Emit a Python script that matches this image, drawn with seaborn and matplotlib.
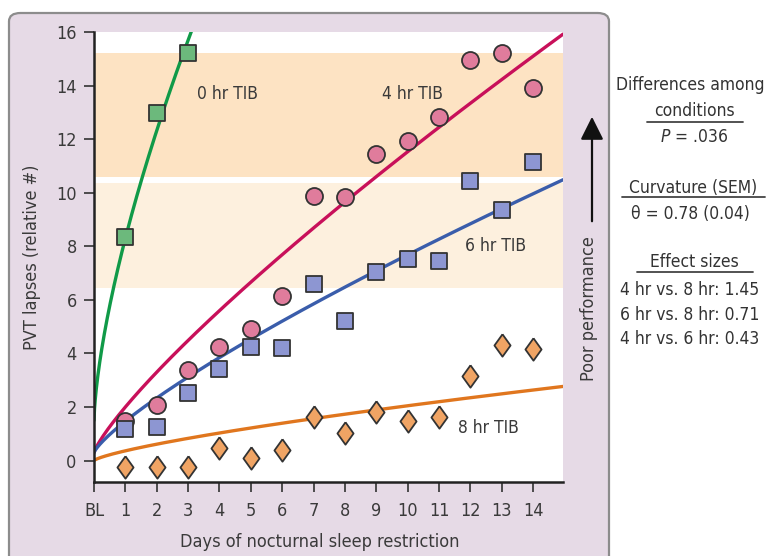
import numpy as np
import pandas as pd
import matplotlib
matplotlib.use("Agg")
import matplotlib.pyplot as plt
import seaborn as sns
from matplotlib.patches import FancyBboxPatch, FancyArrowPatch
from matplotlib.lines import Line2D
from matplotlib import font_manager

# ---------------- data ----------------
days = list(range(1, 15))
tick_pos = list(range(0, 15))
tick_labels = ["BL"] + [str(d) for d in days]

days_0hr = [1, 2, 3]
lapses_0hr = [8.33, 12.96, 15.2]
lapses_4hr = [1.49, 2.08, 3.38, 4.25, 4.9, 6.15, 9.89, 9.85, 11.44, 11.93, 12.81, 14.95, 15.2, 13.9]
lapses_6hr = [1.17, 1.27, 2.54, 3.42, 4.25, 4.19, 6.59, 5.22, 7.05, 7.51, 7.45, 10.45, 9.35, 11.16]
lapses_8hr = [-0.25, -0.25, -0.25, 0.46, 0.09, 0.40, 1.64, 1.04, 1.83, 1.48, 1.64, 3.16, 4.32, 4.17]

# fitted model curves  y = a + b * t**theta  (parameters)
curve_names = ["0hr", "4hr", "6hr", "8hr"]
curve_a = [1.5, 0.3, 0.3, 0.0]
curve_b = [6.8, 1.7, 1.17, 0.364]
curve_theta = [0.67, 0.82, 0.80, 0.75]
curve_tmax = [3.3, 14.95, 14.95, 14.95]

bands = [(10.6, 15.2), (6.45, 10.35)]
band_colors = ["#fde3c3", "#fdf0de"]

labels_txt = ["0 hr TIB", "4 hr TIB", "6 hr TIB", "8 hr TIB"]
labels_xy = [(4.25, 13.68), (10.14, 13.7), (12.79, 8.02), (12.56, 1.22)]

side_text = ["Differences among", "conditions", r"$\it{P}$ = .036",
             "Curvature (SEM)", "\u03b8 = 0.78 (0.04)", "Effect sizes",
             "4 hr vs. 8 hr: 1.45", "6 hr vs. 8 hr: 0.71", "4 hr vs. 6 hr: 0.43"]

# ---------------- style ----------------
sns.set_theme(style="white")
entries = font_manager.fontManager.ttflist
names = {f.name for f in entries}
if "Liberation Sans Narrow" in names:
    FONT = ["Liberation Sans Narrow", "DejaVu Sans"]
    STRETCH = "normal"
    SC = 1.0
else:
    FONT = ["DejaVu Sans"]
    cond = any(f.name == "DejaVu Sans" and f.stretch == "condensed" for f in entries)
    STRETCH = "condensed" if cond else "normal"
    SC = 1.0 if cond else 0.9
plt.rcParams["font.family"] = FONT
plt.rcParams["font.stretch"] = STRETCH
plt.rcParams["mathtext.fontset"] = "custom"
plt.rcParams["mathtext.it"] = FONT[0] + ":italic"
plt.rcParams["mathtext.rm"] = FONT[0]

W, H = 767, 556
fig = plt.figure(figsize=(W / 100, H / 100), dpi=100)
fig.patch.set_facecolor("white")

def fx(px):
    return px / W

def fy(py):
    return 1 - py / H

# panel
panel = FancyBboxPatch((fx(9), fy(600)), fx(600), fy(13) - fy(600),
                       boxstyle="round,pad=0,rounding_size=0.015",
                       transform=fig.transFigure, facecolor="#e6dae6",
                       edgecolor="#8c8c8c", linewidth=1.6, zorder=0)
fig.patches.append(panel)

ax = fig.add_axes([fx(94), fy(482), fx(563) - fx(94), fy(32) - fy(482)])
ax.set_facecolor("white")
ax.set_zorder(1)

for (lo, hi), c in zip(bands, band_colors):
    ax.axhspan(lo, hi, color=c, lw=0, zorder=0)

line_colors = ["#109a48", "#c8105a", "#3a5dab", "#e0761e"]
fill_colors = ["#6cb97c", "#e07c9c", "#8d96d2", "#f0a464"]

for i in range(4):
    t = np.linspace(0, curve_tmax[i], 400)
    y = curve_a[i] + curve_b[i] * t ** curve_theta[i]
    dfc = pd.DataFrame({"t": t, "y": y})
    sns.lineplot(data=dfc, x="t", y="y", ax=ax, color=line_colors[i],
                 lw=2.4, sort=False, estimator=None, zorder=2)

diamond = [(0, 1), (0.72, 0), (0, -1), (-0.72, 0), (0, 1)]
series = [
    (days_0hr, lapses_0hr, "s", 125),
    (days, lapses_4hr, "o", 150),
    (days, lapses_6hr, "s", 125),
    (days, lapses_8hr, diamond, 260),
]
for i, (xs, ys, m, s) in enumerate(series):
    dfp = pd.DataFrame({"day": xs, "lapses": ys})
    sns.scatterplot(data=dfp, x="day", y="lapses", ax=ax, marker=m, s=s,
                    color=fill_colors[i], edgecolor="#333333", linewidth=1.3,
                    zorder=3, clip_on=False)

for txt, (x, y) in zip(labels_txt, labels_xy):
    ax.text(x, y, txt, ha="center", va="center", fontsize=12.5 * SC, color="#3a3a3a", zorder=4)

ax.set_xlim(0, 14.95)
ax.set_ylim(-0.8, 16)
ax.set_xticks(tick_pos)
ax.set_xticklabels(tick_labels)
ax.set_yticks(range(0, 17, 2))
ax.tick_params(axis="both", which="major", direction="out", length=7.5, width=1.2,
               color="#333333", labelcolor="#3a3a3a", labelsize=13 * SC,
               bottom=True, left=True)
ax.tick_params(axis="x", pad=7)
ax.tick_params(axis="y", pad=5)
for side in ["top", "right"]:
    ax.spines[side].set_visible(False)
for side in ["left", "bottom"]:
    ax.spines[side].set_color("#222222")
    ax.spines[side].set_linewidth(1.8)

ax.set_xlabel("Days of nocturnal sleep restriction", fontsize=13 * SC, color="#3a3a3a")
ax.set_ylabel("PVT lapses (relative #)", fontsize=13 * SC, color="#3a3a3a")
ax.xaxis.set_label_coords(0.482, (482 - 541.7) / 450)
ax.xaxis.label.set_va("center")
ax.yaxis.set_label_coords((32 - 94) / 469, 0.5)
ax.yaxis.label.set_va("center")

# arrow + "Poor performance"
fig.add_artist(FancyArrowPatch(
    (fx(592), fy(224)), (fx(592), fy(114)), transform=fig.transFigure,
    arrowstyle="-|>,head_length=7,head_width=3.5", color="#111111", lw=1.6,
    mutation_scale=2))
fig.text(fx(589), fy(309), "Poor performance", rotation=90, ha="center", va="center",
         fontsize=13 * SC, color="#3a3a3a")

# side annotations
side_pos = [(690, 85), (694, 111), (694, 137), (693, 188), (690, 214), (694, 262),
            (690, 290), (690, 315), (690, 339)]
for txt, (x, y) in zip(side_text, side_pos):
    fig.text(fx(x), fy(y), txt, ha="center", va="center", fontsize=12.5 * SC, color="#333333")
for (x0, x1, y) in [(647, 743, 122), (622, 765, 197), (637, 753, 272)]:
    fig.add_artist(Line2D([fx(x0), fx(x1)], [fy(y), fy(y)], transform=fig.transFigure,
                          color="#444444", lw=1.3))

fig.savefig("out.png", dpi=100)
